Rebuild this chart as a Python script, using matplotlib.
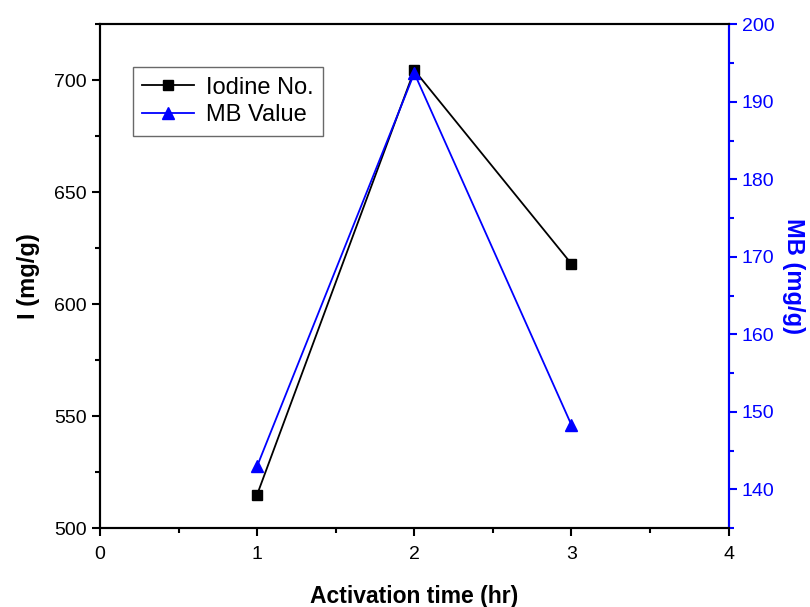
import matplotlib
matplotlib.use("Agg")
import matplotlib.pyplot as plt
from matplotlib.ticker import MultipleLocator

plt.rcParams['font.family'] = ['Liberation Sans', 'DejaVu Sans']

# data
time_hr = [1, 2, 3]
iodine = [515, 704.5, 618]
mb_value = [143, 193.7, 148.3]

fig = plt.figure(figsize=(8.1, 6.07), dpi=100)
ax = fig.add_axes([0.1235, 0.130, 0.776, 0.830])
ax2 = ax.twinx()

l1, = ax.plot(time_hr, iodine, color='black', lw=1.3, marker='s', ms=7,
              label='Iodine No.')
l2, = ax2.plot(time_hr, mb_value, color='blue', lw=1.3, marker='^', ms=8,
               label='MB Value')

ax.set_xlim(0, 4)
ax.set_ylim(500, 725)
ax2.set_ylim(135, 200)

ax.xaxis.set_major_locator(MultipleLocator(1))
ax.xaxis.set_minor_locator(MultipleLocator(0.5))
ax.yaxis.set_major_locator(MultipleLocator(50))
ax.yaxis.set_minor_locator(MultipleLocator(25))
ax2.yaxis.set_major_locator(MultipleLocator(10))
ax2.yaxis.set_minor_locator(MultipleLocator(5))

for s in ax.spines.values():
    s.set_linewidth(1.5)
for s in ax2.spines.values():
    s.set_linewidth(1.5)
ax2.spines['right'].set_color('blue')

ax.tick_params(which='both', direction='out', width=1.5, labelsize=14,
               top=False, right=False)
ax.tick_params(which='major', length=6)
ax.tick_params(which='minor', length=3.5)
ax.tick_params(axis='x', pad=7)
ax2.tick_params(which='both', direction='out', width=1.5, labelsize=14,
                colors='blue')
ax2.tick_params(which='major', length=6)
ax2.tick_params(which='minor', length=3.5)

ax.set_xlabel('Activation time (hr)', fontsize=16.5, fontweight='bold', labelpad=16)
ax.set_ylabel('I (mg/g)', fontsize=17, fontweight='bold', labelpad=10)
ax2.set_ylabel('MB (mg/g)', fontsize=17, fontweight='bold', color='blue',
               rotation=270, labelpad=22)

leg = ax.legend(handles=[l1, l2], loc='upper left', bbox_to_anchor=(0.0525, 0.915),
                borderaxespad=0, fontsize=17, frameon=True, fancybox=False,
                edgecolor='#444444', handlelength=2.2, borderpad=0.4,
                labelspacing=0.25, handletextpad=0.5)
leg.get_frame().set_linewidth(1.0)

fig.savefig('out.png', dpi=100)
